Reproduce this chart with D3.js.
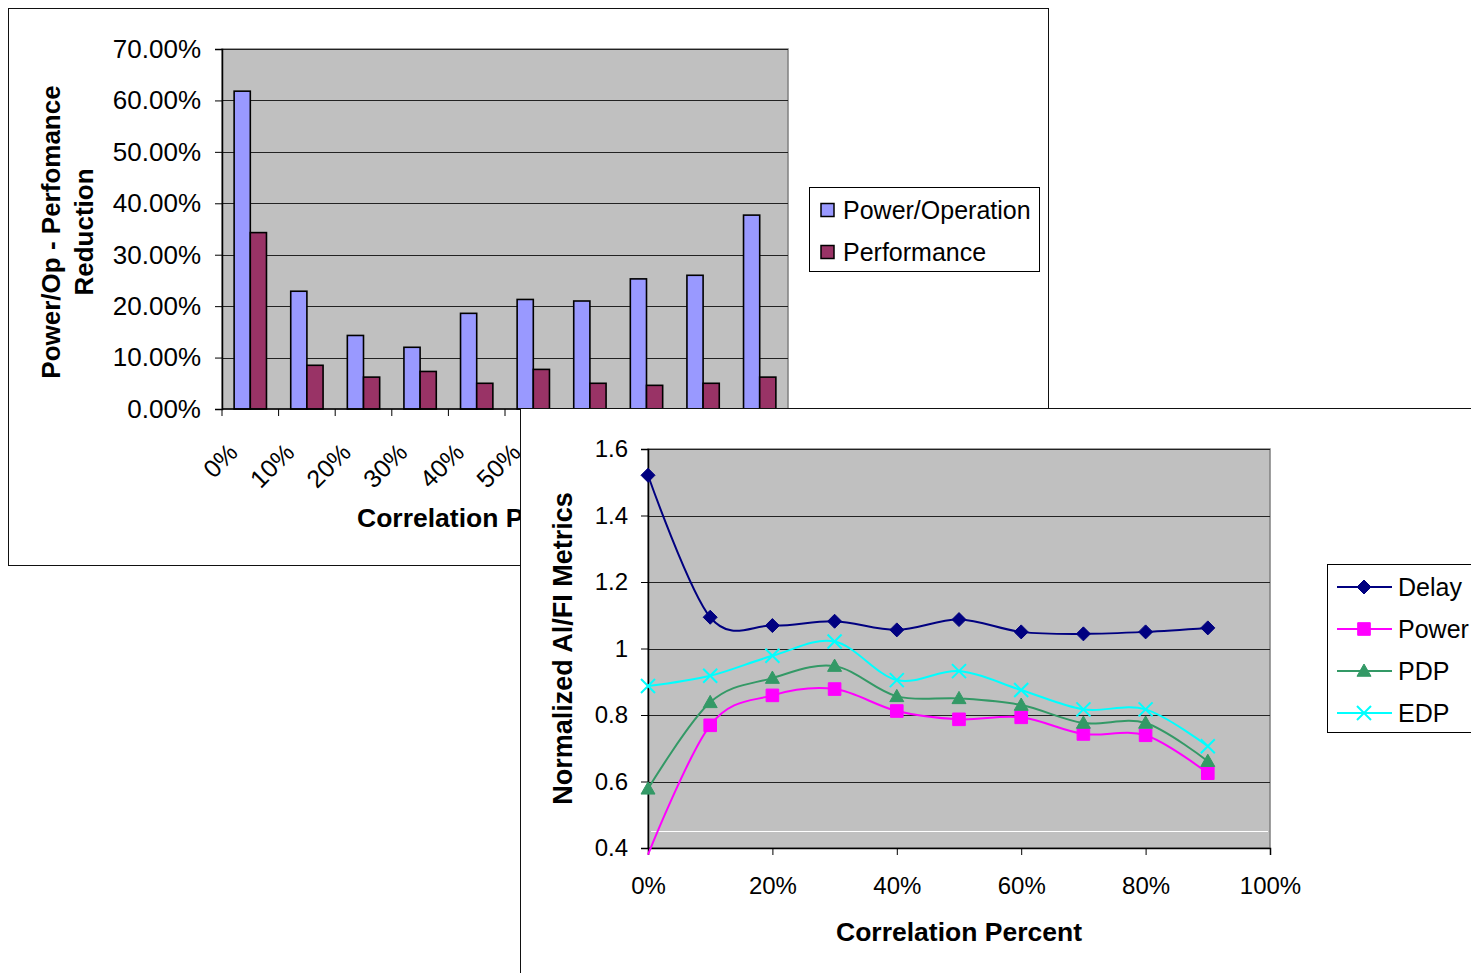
<!DOCTYPE html>
<html>
<head>
<meta charset="utf-8">
<script src="https://cdn.jsdelivr.net/npm/d3@7"></script>
<style>
  html, body { margin: 0; padding: 0; background: #fff; }
  svg { display: block; font-family: "Liberation Sans", Arial, sans-serif; }
</style>
</head>
<body>
<svg id="chart" width="1471" height="973"></svg>
<script>
// ---- Bar chart data: reduction per correlation level (percent) ----
const barCategories = ["0%", "10%", "20%", "30%", "40%", "50%", "60%", "70%", "80%", "90%"];
const barSeriesNames = ["Power/Operation", "Performance"];
const powerPerOp = [61.8, 22.9, 14.3, 12.0, 18.6, 21.3, 21.0, 25.3, 26.0, 37.7];
const performance = [34.3, 8.5, 6.2, 7.3, 5.0, 7.7, 5.0, 4.6, 5.0, 6.2];
const barColors = ["#9999FF", "#993366"];
const barYTicks = [0, 10, 20, 30, 40, 50, 60, 70];

// ---- Line chart data: normalized metrics vs correlation percent ----
const correlation = [0, 10, 20, 30, 40, 50, 60, 70, 80, 90];
const lineSeriesNames = ["Delay", "Power", "PDP", "EDP"];
const delay = [1.521, 1.094, 1.069, 1.082, 1.056, 1.087, 1.050, 1.044, 1.050, 1.062];
const power = [0.380, 0.769, 0.859, 0.878, 0.812, 0.787, 0.793, 0.743, 0.739, 0.625];
const pdp   = [0.578, 0.838, 0.911, 0.947, 0.856, 0.850, 0.830, 0.776, 0.776, 0.661];
const edp   = [0.887, 0.918, 0.978, 1.021, 0.905, 0.932, 0.875, 0.817, 0.817, 0.706];
const lineColors = ["#000080", "#FF00FF", "#339966", "#00FFFF"];
const lineMarkers = ["diamond", "square", "triangle", "cross"];
const lineYTicks = [0.4, 0.6, 0.8, 1.0, 1.2, 1.4, 1.6];
const lineXTicks = [0, 20, 40, 60, 80, 100];

const svg = d3.select("#chart");
const PLOT_FILL = "#C0C0C0";
const GRID = "#222";
const FONT = "'Liberation Sans', Arial, sans-serif";

// The line-chart panel is laid over the lower right of the bar-chart panel.
const PANEL2 = { x: 520.5, y: 408.5 };

// Clip the bar-chart panel to the part left uncovered by the line-chart panel.
svg.append("defs").append("clipPath").attr("id", "panel1-visible")
  .append("path")
  .attr("d", `M0,0H1471V${PANEL2.y}H${PANEL2.x}V973H0Z`);

// =================== Bar chart panel ===================
const p1 = svg.append("g").attr("clip-path", "url(#panel1-visible)");
p1.append("rect").attr("x", 8.5).attr("y", 8.5).attr("width", 1040).attr("height", 557)
  .attr("fill", "#fff").attr("stroke", "#111").attr("stroke-width", 1);

const b = { left: 222, right: 788, top: 49, bottom: 409 };
const bx = d3.scaleBand().domain(barCategories).range([b.left, b.right]).paddingInner(0).paddingOuter(0);
const by = d3.scaleLinear().domain([0, 70]).range([b.bottom, b.top]);

p1.append("rect").attr("x", b.left).attr("y", b.top)
  .attr("width", b.right - b.left).attr("height", b.bottom - b.top)
  .attr("fill", PLOT_FILL).attr("stroke", "#808080").attr("stroke-width", 1.5);

p1.append("g").selectAll("line").data(barYTicks.filter(d => d > 0)).join("line")
  .attr("x1", b.left).attr("x2", b.right)
  .attr("y1", d => Math.round(by(d)) + 0.5).attr("y2", d => Math.round(by(d)) + 0.5)
  .attr("stroke", GRID).attr("stroke-width", 1.2);

// y axis
const byAxis = d3.axisLeft(by).tickValues(barYTicks).tickSize(7).tickPadding(14)
  .tickFormat(d => d3.format(".2f")(d) + "%");
const gby = p1.append("g").attr("transform", `translate(${b.left},0)`).call(byAxis);
gby.select(".domain").attr("stroke", "#000").attr("stroke-width", 1.5);
gby.selectAll(".tick line").attr("stroke", "#000");
gby.selectAll("text").attr("font-size", 26).attr("fill", "#000").attr("font-family", FONT);

// bars (Excel-style gap width of 150%)
const sub = d3.scaleBand().domain(barSeriesNames).range([0, bx.bandwidth()])
  .paddingInner(0).paddingOuter(0.75);
const barRows = barCategories.map((c, i) => ({ c, vals: [powerPerOp[i], performance[i]] }));
p1.append("g").selectAll("g").data(barRows).join("g")
  .attr("transform", d => `translate(${bx(d.c)},0)`)
  .selectAll("rect").data(d => d.vals.map((v, k) => ({ v, k }))).join("rect")
  .attr("x", d => sub(barSeriesNames[d.k]))
  .attr("width", sub.bandwidth())
  .attr("y", d => by(d.v))
  .attr("height", d => by(0) - by(d.v))
  .attr("fill", d => barColors[d.k])
  .attr("stroke", "#000").attr("stroke-width", 1.6);

// x axis
const gbx = p1.append("g").attr("transform", `translate(0,${b.bottom})`);
gbx.append("line").attr("x1", b.left).attr("x2", b.right).attr("stroke", "#000").attr("stroke-width", 1.5);
gbx.selectAll("line.tk").data(d3.range(barCategories.length + 1)).join("line").attr("class", "tk")
  .attr("x1", i => b.left + i * bx.step()).attr("x2", i => b.left + i * bx.step())
  .attr("y1", 0).attr("y2", 7).attr("stroke", "#000");
// rotated category labels; those that fall entirely under the overlaid panel are skipped
const labelX = d => bx(d) + bx.bandwidth() / 2 - 11;
gbx.selectAll("text").data(barCategories.filter(d => labelX(d) - 45 < PANEL2.x)).join("text")
  .attr("transform", d => `translate(${labelX(d)},45) rotate(-45)`)
  .attr("text-anchor", "end").attr("font-size", 25).text(d => d);

p1.append("text").attr("x", 480).attr("y", 527).attr("text-anchor", "middle")
  .attr("font-size", 26.5).attr("font-weight", "bold").text("Correlation Percent");

const yTitle = p1.append("text").attr("transform", "translate(60,232) rotate(-90)")
  .attr("text-anchor", "middle").attr("font-size", 26).attr("font-weight", "bold");
yTitle.append("tspan").attr("x", 0).attr("dy", 0).text("Power/Op - Perfomance");
yTitle.append("tspan").attr("x", 0).attr("dy", 33).text("Reduction");

// legend
const lg1 = p1.append("g");
lg1.append("rect").attr("x", 809.5).attr("y", 187.5).attr("width", 230).attr("height", 84)
  .attr("fill", "#fff").attr("stroke", "#000").attr("stroke-width", 1);
barSeriesNames.forEach((n, i) => {
  const cy = 210 + i * 42;
  lg1.append("rect").attr("x", 821).attr("y", cy - 6.5).attr("width", 13).attr("height", 13)
    .attr("fill", barColors[i]).attr("stroke", "#000").attr("stroke-width", 1.5);
  lg1.append("text").attr("x", 843).attr("y", cy).attr("dy", "0.35em")
    .attr("font-size", 25).text(n);
});

// =================== Line chart panel ===================
const p2 = svg.append("g");
p2.append("rect").attr("x", PANEL2.x).attr("y", PANEL2.y).attr("width", 1000).attr("height", 600)
  .attr("fill", "#fff").attr("stroke", "#111").attr("stroke-width", 1);

const l = { left: 648, right: 1270, top: 449, bottom: 848 };
const lx = d3.scaleLinear().domain([0, 100]).range([l.left, l.right]);
const ly = d3.scaleLinear().domain([0.4, 1.6]).range([l.bottom, l.top]);

p2.append("rect").attr("x", l.left).attr("y", l.top)
  .attr("width", l.right - l.left).attr("height", l.bottom - l.top)
  .attr("fill", PLOT_FILL).attr("stroke", "#808080").attr("stroke-width", 1.5);

p2.append("g").selectAll("line").data(lineYTicks.filter(d => d > 0.4)).join("line")
  .attr("x1", l.left).attr("x2", l.right)
  .attr("y1", d => Math.round(ly(d)) + 0.5).attr("y2", d => Math.round(ly(d)) + 0.5)
  .attr("stroke", GRID).attr("stroke-width", 1.2);
// faint light rule near the bottom of the plot
p2.append("line").attr("x1", l.left + 3).attr("x2", l.right - 2)
  .attr("y1", Math.round(ly(0.45)) + 0.5).attr("y2", Math.round(ly(0.45)) + 0.5)
  .attr("stroke", "#fff").attr("stroke-width", 1);

const lyAxis = d3.axisLeft(ly).tickValues(lineYTicks).tickSize(7).tickPadding(13)
  .tickFormat(d => d === 1 ? "1" : d3.format(".1f")(d));
const gly = p2.append("g").attr("transform", `translate(${l.left},0)`).call(lyAxis);
gly.select(".domain").attr("stroke", "#000").attr("stroke-width", 1.5);
gly.selectAll(".tick line").attr("stroke", "#000");
gly.selectAll("text").attr("font-size", 24).attr("fill", "#000").attr("font-family", FONT);

const lxAxis = d3.axisBottom(lx).tickValues(lineXTicks).tickSize(7).tickPadding(22)
  .tickFormat(d => d + "%");
const glx = p2.append("g").attr("transform", `translate(0,${l.bottom})`).call(lxAxis);
glx.select(".domain").attr("stroke", "#000").attr("stroke-width", 1.5);
glx.selectAll(".tick line").attr("stroke", "#000");
glx.selectAll("text").attr("font-size", 24).attr("fill", "#000").attr("font-family", FONT);

p2.append("text").attr("x", (l.left + l.right) / 2).attr("y", 941).attr("text-anchor", "middle")
  .attr("font-size", 26.5).attr("font-weight", "bold").text("Correlation Percent");
p2.append("text").attr("transform", `translate(572,${(l.top + l.bottom) / 2}) rotate(-90)`)
  .attr("text-anchor", "middle").attr("font-size", 27).attr("font-weight", "bold")
  .text("Normalized Al/FI Metrics");

const lineSeries = [delay, power, pdp, edp];
const lineGen = d3.line().x((d, i) => lx(correlation[i])).y(d => ly(d))
  .curve(d3.curveCatmullRom.alpha(0));

function markerPath(type, size) {
  const s = size;
  if (type === "diamond") return `M0,${-s}L${s},0L0,${s}L${-s},0Z`;
  if (type === "square") return `M${-s * 0.9},${-s * 0.9}h${s * 1.8}v${s * 1.8}h${-s * 1.8}Z`;
  if (type === "triangle") return `M0,${-s}L${s},${s * 0.75}L${-s},${s * 0.75}Z`;
  return `M${-s},${-s}L${s},${s}M${s},${-s}L${-s},${s}`;
}

lineSeries.forEach((vals, k) => {
  p2.append("path").datum(vals).attr("d", lineGen)
    .attr("fill", "none").attr("stroke", lineColors[k]).attr("stroke-width", 2);
});
lineSeries.forEach((vals, k) => {
  const pts = vals.map((v, i) => ({ x: correlation[i], v })).filter(d => d.v >= 0.4 && d.v <= 1.6);
  p2.append("g").selectAll("path").data(pts).join("path")
    .attr("transform", d => `translate(${lx(d.x)},${ly(d.v)})`)
    .attr("d", markerPath(lineMarkers[k], 7))
    .attr("fill", lineMarkers[k] === "cross" ? "none" : lineColors[k])
    .attr("stroke", lineColors[k]).attr("stroke-width", lineMarkers[k] === "cross" ? 2 : 1);
});

// legend
const lg2 = p2.append("g");
lg2.append("rect").attr("x", 1327.5).attr("y", 564.5).attr("width", 200).attr("height", 168)
  .attr("fill", "#fff").attr("stroke", "#000").attr("stroke-width", 1);
lineSeriesNames.forEach((n, k) => {
  const cy = 587 + k * 42;
  lg2.append("line").attr("x1", 1337).attr("x2", 1392).attr("y1", cy).attr("y2", cy)
    .attr("stroke", lineColors[k]).attr("stroke-width", 2);
  lg2.append("path").attr("transform", `translate(1364,${cy})`)
    .attr("d", markerPath(lineMarkers[k], 7))
    .attr("fill", lineMarkers[k] === "cross" ? "none" : lineColors[k])
    .attr("stroke", lineColors[k]).attr("stroke-width", lineMarkers[k] === "cross" ? 2 : 1);
  lg2.append("text").attr("x", 1398).attr("y", cy).attr("dy", "0.35em")
    .attr("font-size", 25).text(n);
});
</script>
</body>
</html>
